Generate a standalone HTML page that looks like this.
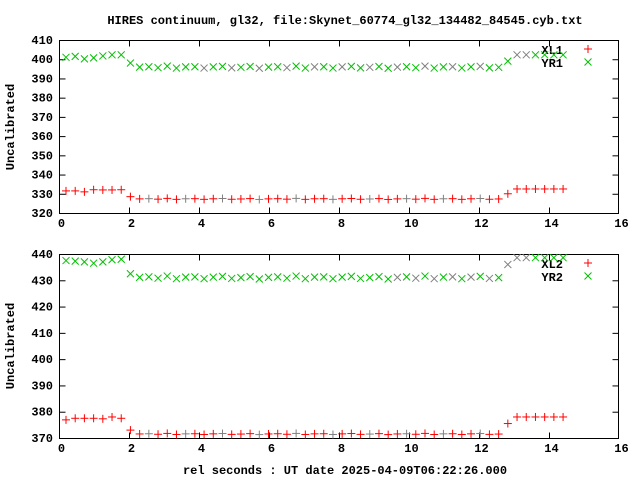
<!DOCTYPE html>
<html><head><meta charset="utf-8"><style>
body{margin:0;background:#fff}
svg text{font-family:"Liberation Mono",monospace;font-weight:bold;font-size:12px;fill:#000}
</style></head><body>
<svg id="s" width="640" height="480" xmlns="http://www.w3.org/2000/svg">
<text x="345" y="24" text-anchor="middle">HIRES continuum, gl32, file:Skynet_60774_gl32_134482_84545.cyb.txt</text>
<rect x="59.5" y="40.5" width="559" height="173" fill="none" stroke="#000"/>
<rect x="59.5" y="254.5" width="559" height="184" fill="none" stroke="#000"/>
<text transform="translate(14,127) rotate(-90)" text-anchor="middle">Uncalibrated</text>
<text transform="translate(14,346) rotate(-90)" text-anchor="middle">Uncalibrated</text>
<text x="345" y="474" text-anchor="middle">rel seconds : UT date 2025-04-09T06:22:26.000</text>
<text x="563" y="54" text-anchor="end">XL1</text>
<text x="563" y="67" text-anchor="end">YR1</text>
<text x="563" y="268" text-anchor="end">XL2</text>
<text x="563" y="281" text-anchor="end">YR2</text>
<g id="g"></g>
</svg>
<script>
var g=document.getElementById('g'),h='';
function X(v){return 59+35*v}
function ln(a,b,c,d,col){h+='<line x1="'+a+'" y1="'+b+'" x2="'+c+'" y2="'+d+'" stroke="'+col+'" stroke-width="1"/>'}
function plus(x,y,c){ln(x-4,y,x+4,y,c);ln(x,y-4,x,y+4,c)}
function cross(x,y,c){ln(x-3.5,y-3.5,x+3.5,y+3.5,c);ln(x-3.5,y+3.5,x+3.5,y-3.5,c)}
// axes ticks
function axes(top,bot,ymin,ymax,step){
 var ny=(ymax-ymin)/step;
 for(var i=0;i<=ny;i++){var y=bot-(bot-top)*i/ny;var v=ymin+i*step;
  h+='<text x="53" y="'+(y+4)+'" text-anchor="end">'+v+'</text>';
  if(i>0&&i<ny){ln(59.5,y+0.5,65.5,y+0.5,'#000');ln(612.5,y+0.5,618.5,y+0.5,'#000');}}
 for(var k=0;k<=16;k+=2){var x=X(k)+0.5;
  h+='<text x="'+(x+2)+'" y="'+(bot+14)+'" text-anchor="middle">'+k+'</text>';
  if(k>0&&k<16){ln(x,bot+0.5,x,bot-5.5,'#000');ln(x,top+0.5,x,top+6.5,'#000');}}
}
axes(40,213,320,410,10);
axes(254,438,370,440,10);
function Yt(v){return 213-(v-320)*173/90}
function Yb(v){return 438-(v-370)*184/70}
var n=55;
var nz=[0.3,-0.4,0.2,0.5,-0.3,0,0.4,-0.5,0.1,0.3,-0.2,0.6,-0.4,0.2];
for(var i=0;i<n;i++){
 var x=0.2+0.263*i,px=X(x),r=nz[i%14];
 var yr1,xl1,yr2,xl2;
 if(x<2){yr1=401+[0,0.5,-0.8,-0.3,0.7,1.3,1.3][i%7];xl1=331.5+[0,0,-0.5,0.6,0.5,0.5,0.6][i%7];yr2=437+[0.5,0.3,0,-0.5,0,0.8,1][i%7];xl2=377.5+[-0.6,0,0,0,-0.2,0.5,0][i%7];}
 else if(x<2.3){yr1=398;xl1=328.5;yr2=432.5;xl2=373;}
 else if(x<12.6){yr1=395.8+r;xl1=327.3+r*0.5;yr2=431+r;xl2=371.5+r*0.4;}
 else if(x<12.95){yr1=399;xl1=330;yr2=436;xl2=375.5;}
 else {yr1=402.3;xl1=332.5;yr2=438.6;xl2=378;}
 var gc=(x>12.9&&x<13.6)||(x>3.5&&x<12.6&&i%3==0)?'#808080':'#00c000';
 var rc=(x>2&&x<12.6&&i%4==1)?'#808080':'#ff0000';
 cross(px,Yt(yr1),gc);plus(px,Yt(xl1),rc);
 cross(px,Yb(yr2),(x>9.5&&x<12.6&&i%2==0)||x>12.6&&x<13.6?'#808080':'#00c000');plus(px,Yb(xl2),rc);
}
plus(588,49,'#ff0000');cross(588,62,'#00c000');
plus(588,263,'#ff0000');cross(588,276,'#00c000');
g.innerHTML=h;
</script>
</body></html>
